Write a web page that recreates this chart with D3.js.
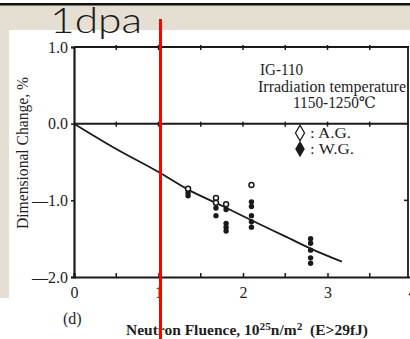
<!DOCTYPE html>
<html>
<head>
<meta charset="utf-8">
<script src="https://cdn.jsdelivr.net/npm/d3@7"></script>
<style>
  body { margin: 0; background: #fff; }
  svg { display: block; }
  .serif { font-family: "Liberation Serif", "DejaVu Serif", serif; fill: #1e1e1e; }
</style>
</head>
<body>
<div id="root"></div>
<script>
const W = 410, H = 339;

// tick values
const xTicks = [0, 1, 2, 3, 4];
const xMinor = [0.5, 1.5, 2.5, 3.5];
const yTicks = [1, 0, -1, -2];

// fitted curve
const curveX = [0, 0.5, 1, 1.35, 1.75, 2.1, 2.5, 2.8, 3.17];
const curveY = [0, -0.33, -0.63, -0.86, -1.07, -1.26, -1.47, -1.63, -1.80];

// A.G. (open) points
const agX = [1.35, 1.68, 1.68, 1.8, 2.1];
const agY = [-0.85, -0.97, -1.03, -1.05, -0.80];

// W.G. (filled) points
const wgX = [1.35, 1.35, 1.68, 1.68, 1.8, 1.8, 1.8, 1.8, 2.1, 2.1, 2.1, 2.1, 2.1, 2.8, 2.8, 2.8, 2.8, 2.8];
const wgY = [-0.9, -0.94, -1.1, -1.2, -1.12, -1.3, -1.35, -1.4, -1.02, -1.08, -1.2, -1.28, -1.35, -1.5, -1.56, -1.65, -1.75, -1.82];

const svg = d3.select("#root").append("svg")
    .attr("width", W)
    .attr("height", H);

// slide background (beige) with pasted white picture
svg.append("rect").attr("x", 0).attr("y", 0).attr("width", W).attr("height", H).attr("fill", "#fff");
svg.append("rect").attr("x", 0).attr("y", 5).attr("width", W).attr("height", 25).attr("fill", "#e4ded3");
svg.append("rect").attr("x", 0).attr("y", 30).attr("width", 9).attr("height", 268).attr("fill", "#e4ded3");
svg.append("rect").attr("x", 0).attr("y", 3).attr("width", W).attr("height", 2.5).attr("fill", "#111");

// scales
const x = d3.scaleLinear().domain([0, 4]).range([74, 412]);
const y = d3.scaleLinear().domain([-2, 1]).range([277, 47]);

const fmt = d => d === 0 ? "0.0" : (d < 0 ? "\u2014" + Math.abs(d).toFixed(1) : d.toFixed(1));

// bottom axis
const gx = svg.append("g")
    .attr("transform", "translate(0," + y(-2) + ")")
    .call(d3.axisBottom(x).tickValues(xTicks).tickSize(-4).tickPadding(10).tickFormat(d3.format("d")));
gx.selectAll("text").attr("font-size", 16).attr("fill", "#1e1e1e").attr("font-family", "Liberation Serif, serif");

// left axis
const gy = svg.append("g")
    .attr("transform", "translate(" + x(0) + ",0)")
    .call(d3.axisLeft(y).tickValues(yTicks).tickSize(3).tickPadding(3).tickFormat(fmt));
gy.selectAll("text").attr("font-size", 16).attr("fill", "#1e1e1e").attr("font-family", "Liberation Serif, serif");

svg.selectAll(".domain").attr("stroke", "#1a1a1a").attr("stroke-width", 2.2);
svg.selectAll(".tick line").attr("stroke", "#1a1a1a").attr("stroke-width", 1.5);

// frame: top, right and zero line
const frame = svg.append("g").attr("stroke", "#1a1a1a").attr("fill", "none");
frame.append("line").attr("x1", x(0)).attr("x2", 409).attr("y1", y(1)).attr("y2", y(1)).attr("stroke-width", 2);
frame.append("line").attr("x1", 408).attr("x2", 408).attr("y1", y(1)).attr("y2", y(-2)).attr("stroke-width", 1.8);
frame.append("line").attr("x1", x(0)).attr("x2", 409).attr("y1", y(0)).attr("y2", y(0)).attr("stroke-width", 2);

// small ticks on top / zero / bottom lines
const allX = xTicks.concat(xMinor).filter(d => d > 0 && d < 4);
[1, 0].forEach(v => {
  frame.selectAll(null).data(allX).enter().append("line")
      .attr("x1", d => x(d)).attr("x2", d => x(d))
      .attr("y1", y(v) - 2).attr("y2", y(v) + 3)
      .attr("stroke-width", 1.5);
});
frame.selectAll(null).data(xMinor).enter().append("line")
    .attr("x1", d => x(d)).attr("x2", d => x(d))
    .attr("y1", y(-2)).attr("y2", y(-2) - 4)
    .attr("stroke-width", 1.5);
frame.selectAll(null).data([-1]).enter().append("line")
    .attr("x1", 408).attr("x2", 404)
    .attr("y1", d => y(d)).attr("y2", d => y(d))
    .attr("stroke-width", 1.5);

// fitted curve
const curve = curveX.map((d, i) => [d, curveY[i]]);
svg.append("path")
    .datum(curve)
    .attr("fill", "none")
    .attr("stroke", "#1a1a1a")
    .attr("stroke-width", 1.8)
    .attr("d", d3.line().curve(d3.curveMonotoneX).x(d => x(d[0])).y(d => y(d[1])));

// data points
svg.selectAll(".wg")
    .data(wgX.map((d, i) => [d, wgY[i]]))
    .enter().append("circle")
    .attr("class", "wg")
    .attr("cx", d => x(d[0])).attr("cy", d => y(d[1]))
    .attr("r", 2.7)
    .attr("fill", "#1a1a1a");

svg.selectAll(".ag")
    .data(agX.map((d, i) => [d, agY[i]]))
    .enter().append("circle")
    .attr("class", "ag")
    .attr("cx", d => x(d[0])).attr("cy", d => y(d[1]))
    .attr("r", 2.5)
    .attr("fill", "#fff")
    .attr("stroke", "#1a1a1a")
    .attr("stroke-width", 1.5);

// helper: scanned text is a bit condensed, so fit it to its measured width
function fitText(g, tx, ty, str, len, size) {
  return g.append("text")
      .attr("x", tx).attr("y", ty)
      .attr("font-size", size)
      .attr("textLength", len)
      .attr("lengthAdjust", "spacingAndGlyphs")
      .text(str);
}

// annotation text
const note = svg.append("g").attr("class", "serif");
fitText(note, 260, 75, "IG-110", 43, 16);
fitText(note, 258, 92, "Irradiation temperature", 148, 16);
fitText(note, 293, 108, "1150-1250\u2103", 83, 16);

// legend
const legend = svg.append("g").attr("class", "serif");
legend.append("path")
    .attr("d", d3.symbol(d3.symbolDiamond, 70)())
    .attr("transform", "translate(300,133)")
    .attr("fill", "#fff").attr("stroke", "#1a1a1a").attr("stroke-width", 1.3);
fitText(legend, 310, 138, ": A.G.", 41, 15.5);
legend.append("path")
    .attr("d", d3.symbol(d3.symbolDiamond, 80)())
    .attr("transform", "translate(300,149)")
    .attr("fill", "#1a1a1a");
fitText(legend, 310, 154, ": W.G.", 44, 15.5);

// axis titles
fitText(svg.append("g").attr("class", "serif").attr("transform", "translate(28,153)rotate(-90)"),
    -76, 0, "Dimensional Change, %", 152, 16);

const xt = svg.append("text")
    .attr("class", "serif")
    .attr("font-size", 15)
    .attr("font-weight", "bold")
    .attr("x", 126).attr("y", 335)
    .attr("textLength", 242)
    .attr("lengthAdjust", "spacingAndGlyphs");
xt.append("tspan").text("Neutron Fluence, 10");
xt.append("tspan").attr("font-size", 11).attr("dy", -5).text("25");
xt.append("tspan").attr("dy", 5).text("n/m");
xt.append("tspan").attr("font-size", 11).attr("dy", -5).text("2");
xt.append("tspan").attr("dy", 5).attr("xml:space", "preserve").text("  (E>29fJ)");

svg.append("text")
    .attr("class", "serif")
    .attr("font-size", 16)
    .attr("x", 63).attr("y", 324)
    .text("(d)");

// slide overlay: label and red marker line
svg.append("text")
    .attr("x", 50).attr("y", 33)
    .attr("font-family", "Lato, 'DejaVu Sans', sans-serif")
    .attr("font-weight", 300)
    .attr("font-size", 36)
    .attr("textLength", 92)
    .attr("lengthAdjust", "spacingAndGlyphs")
    .attr("fill", "#1a1a1a")
    .text("1dpa");

svg.append("line")
    .attr("x1", 160.5).attr("x2", 160.5)
    .attr("y1", 19).attr("y2", H)
    .attr("stroke", "#ff0000")
    .attr("stroke-width", 3);
</script>
</body>
</html>
